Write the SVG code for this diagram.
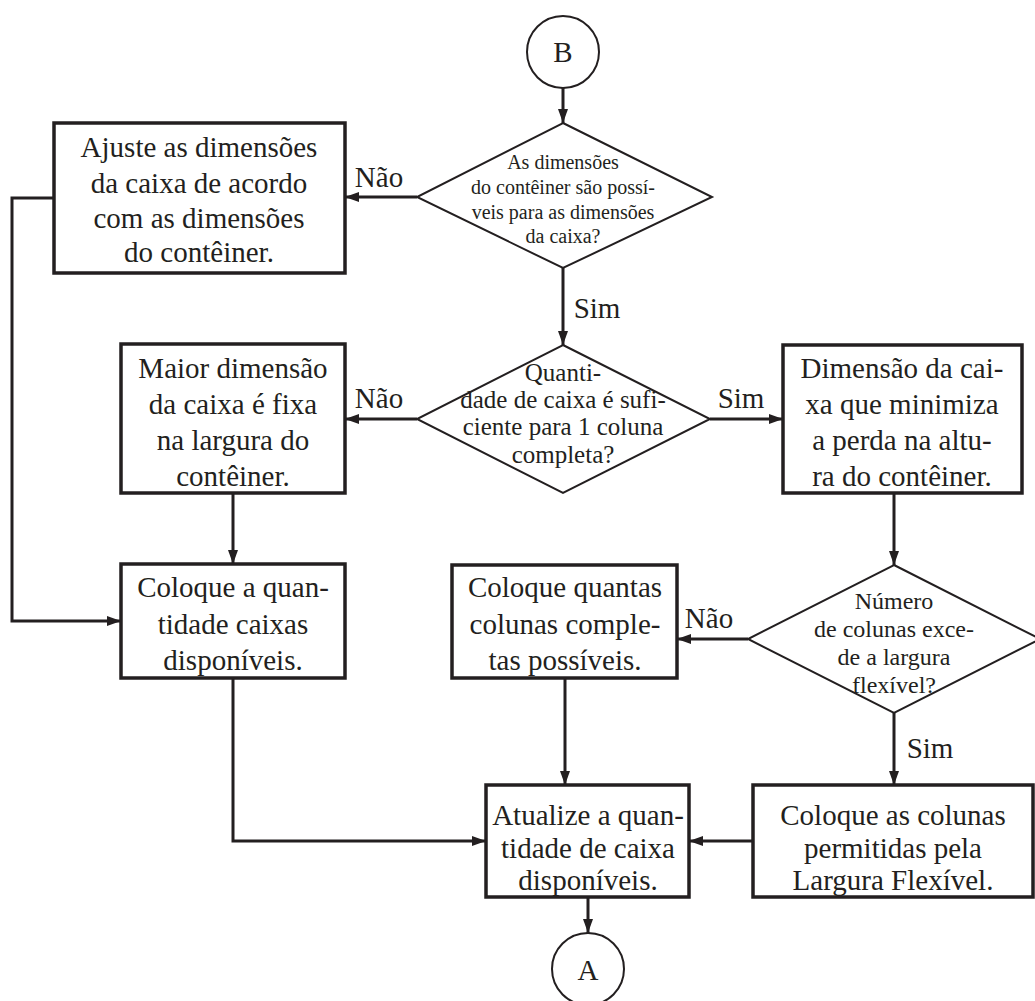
<svg xmlns="http://www.w3.org/2000/svg" width="1035" height="1001" viewBox="0 0 1035 1001">
<defs>
<marker id="arr" markerWidth="14" markerHeight="10" refX="14" refY="5" orient="auto" markerUnits="userSpaceOnUse">
<path d="M0,0 L14,5 L0,10 Z" fill="#231f20"/>
</marker>
<style>
.box{fill:#fff;stroke:#231f20;stroke-width:3.5}
.dia{fill:#fff;stroke:#231f20;stroke-width:2}
.circ{fill:#fff;stroke:#231f20;stroke-width:2}
.t{font-family:"Liberation Serif","Times New Roman",serif;font-size:29px;fill:#231f20;text-anchor:middle}
.ts{font-family:"Liberation Serif","Times New Roman",serif;font-size:20px;fill:#231f20;text-anchor:middle}
.tm{font-family:"Liberation Serif","Times New Roman",serif;font-size:25px;fill:#231f20;text-anchor:middle}
.tl{font-family:"Liberation Serif","Times New Roman",serif;font-size:24px;fill:#231f20;text-anchor:middle}
.c{fill:none;stroke:#231f20;stroke-width:3}
</style>
</defs>
<rect width="1035" height="1001" fill="#fff"/>
<g id="connectors">
<path class="c" d="M563,88 V123" marker-end="url(#arr)"/>
<path class="c" d="M417,197 H345" marker-end="url(#arr)"/>
<path class="c" d="M54,198 H12 V621 H121" marker-end="url(#arr)"/>
<path class="c" d="M563,268 V345" marker-end="url(#arr)"/>
<path class="c" d="M417,419 H345" marker-end="url(#arr)"/>
<path class="c" d="M710,419 H783" marker-end="url(#arr)"/>
<path class="c" d="M233,493 V564" marker-end="url(#arr)"/>
<path class="c" d="M894,493 V565" marker-end="url(#arr)"/>
<path class="c" d="M748,639 H677" marker-end="url(#arr)"/>
<path class="c" d="M894,713 V785" marker-end="url(#arr)"/>
<path class="c" d="M565,678 V785" marker-end="url(#arr)"/>
<path class="c" d="M233,678 V841 H486" marker-end="url(#arr)"/>
<path class="c" d="M753,841 H689" marker-end="url(#arr)"/>
<path class="c" d="M588,897 V933" marker-end="url(#arr)"/>
<text class="t" x="379" y="187">Não</text>
<text class="t" x="597" y="318">Sim</text>
<text class="t" x="379" y="408">Não</text>
<text class="t" x="741" y="408">Sim</text>
<text class="t" x="709" y="628">Não</text>
<text class="t" x="930" y="758">Sim</text>
</g>
<g id="B">
<circle class="circ" cx="563" cy="52" r="36"/>
<text class="t" x="563" y="62">B</text>
</g>
<g id="d1">
<polygon class="dia" points="563,123 712,197 563,268 417,197"/>
<text class="ts" x="563" y="169">As dimensões</text>
<text class="ts" x="563" y="194">do contêiner são possí-</text>
<text class="ts" x="563" y="219">veis para as dimensões</text>
<text class="ts" x="563" y="243">da caixa?</text>
</g>
<g id="b1">
<rect class="box" x="54" y="123" width="291" height="150"/>
<text class="t" x="199" y="157">Ajuste as dimensões</text>
<text class="t" x="199" y="193">da caixa de acordo</text>
<text class="t" x="199" y="228">com as dimensões</text>
<text class="t" x="199" y="262">do contêiner.</text>
</g>
<g id="d2">
<polygon class="dia" points="563,345 710,419 563,493 417,419"/>
<text class="tm" x="563" y="381">Quanti-</text>
<text class="tm" x="563" y="408">dade de caixa é sufi-</text>
<text class="tm" x="563" y="435">ciente para 1 coluna</text>
<text class="tm" x="563" y="463">completa?</text>
</g>
<g id="b2">
<rect class="box" x="121" y="344" width="224" height="149"/>
<text class="t" x="233" y="378">Maior dimensão</text>
<text class="t" x="233" y="414">da caixa é fixa</text>
<text class="t" x="233" y="450">na largura do</text>
<text class="t" x="233" y="486">contêiner.</text>
</g>
<g id="b3">
<rect class="box" x="783" y="345" width="239" height="148"/>
<text class="t" x="902" y="378">Dimensão da cai-</text>
<text class="t" x="902" y="414">xa que minimiza</text>
<text class="t" x="902" y="450">a perda na altu-</text>
<text class="t" x="902" y="486">ra do contêiner.</text>
</g>
<g id="b4">
<rect class="box" x="121" y="564" width="224" height="114"/>
<text class="t" x="233" y="597">Coloque a quan-</text>
<text class="t" x="233" y="634">tidade caixas</text>
<text class="t" x="233" y="670">disponíveis.</text>
</g>
<g id="b5">
<rect class="box" x="452" y="565" width="225" height="113"/>
<text class="t" x="565" y="597">Coloque quantas</text>
<text class="t" x="565" y="634">colunas comple-</text>
<text class="t" x="565" y="670">tas possíveis.</text>
</g>
<g id="d3">
<polygon class="dia" points="894,565 1040,639 894,713 748,639"/>
<text class="tl" x="894" y="609">Número</text>
<text class="tl" x="894" y="637">de colunas exce-</text>
<text class="tl" x="894" y="665">de a largura</text>
<text class="tl" x="894" y="693">flexível?</text>
</g>
<g id="b6">
<rect class="box" x="486" y="785" width="203" height="112"/>
<text class="t" x="588" y="825">Atualize a quan-</text>
<text class="t" x="588" y="858">tidade de caixa</text>
<text class="t" x="588" y="890">disponíveis.</text>
</g>
<g id="b7">
<rect class="box" x="753" y="785" width="280" height="112"/>
<text class="t" x="893" y="825">Coloque as colunas</text>
<text class="t" x="893" y="858">permitidas pela</text>
<text class="t" x="893" y="890">Largura Flexível.</text>
</g>
<g id="A">
<circle class="circ" cx="588" cy="969" r="36"/>
<text class="t" x="588" y="980">A</text>
</g>
</svg>
